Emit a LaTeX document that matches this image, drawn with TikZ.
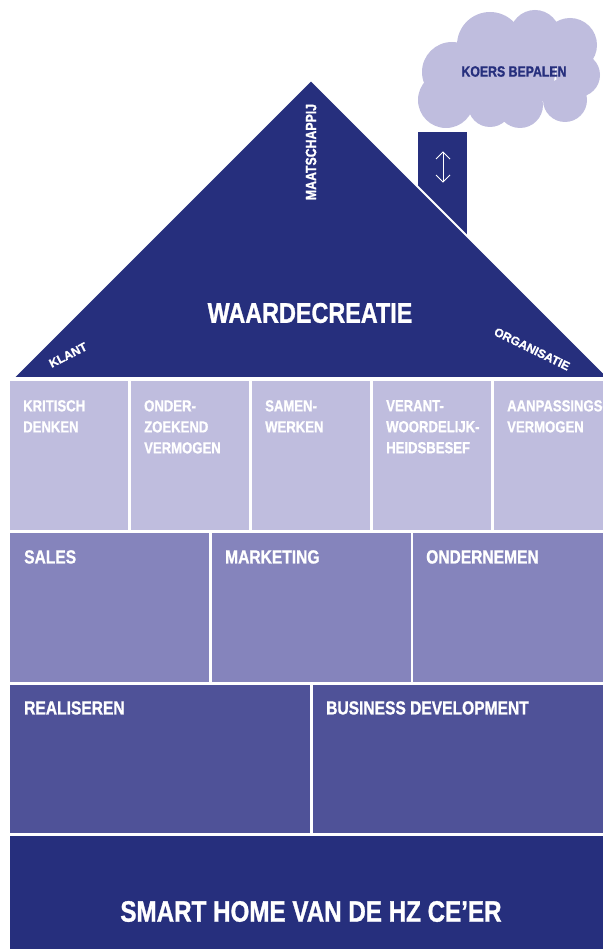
\documentclass[tikz,border=0pt]{standalone}
\usepackage{fontspec}
\usepackage{tikz}
\usepackage{xcolor}
\usetikzlibrary{positioning}
\newfontfamily\housefont{Liberation Sans Bold}[FakeStretch=0.82, FakeBold=1]
\newfontfamily\slopefont{Liberation Sans Bold}[FakeBold=1]
\definecolor{navy}{RGB}{38,47,125}
\definecolor{lila}{RGB}{191,189,222}
\definecolor{paars}{RGB}{133,132,188}
\definecolor{indigo}{RGB}{79,82,152}

\begin{document}
\begin{tikzpicture}[x=1pt,y=-1pt]
\tikzstyle{every node}+=[inner sep=0pt]
\tikzstyle{cell}=[anchor=north west, minimum height=149pt]
\tikzstyle{deugd}=[cell, fill=lila, minimum width=118pt]
\tikzstyle{vak}=[cell, fill=paars, minimum width=199pt]
\tikzstyle{rol}=[cell, fill=indigo, minimum width=300pt, minimum height=148pt]
\tikzstyle{klein}=[anchor=north west, text=white, align=left, font=\housefont\fontsize{16}{21}\selectfont]
\tikzstyle{groot}=[anchor=north west, text=white, font=\housefont\fontsize{19}{23}\selectfont]
\tikzstyle{schuin}=[text=white, font=\slopefont\fontsize{12}{14}\selectfont]
\useasboundingbox (0,0) rectangle (602,949);
\fill [lila] (446,100) circle (28) (452,72) circle (30) (490,45) circle (33)
  (535,35) circle (25) (570,45) circle (27) (578,75) circle (22)
  (565,100) circle (22) (520,105) circle (23) (490,105) circle (22)
  (515,72) circle (40);
\node [text=navy, font=\housefont\fontsize{15}{18}\selectfont] (koers) at (514,71.5) {KOERS BEPALEN};
\fill [navy] (418,132) rectangle (467,240);
\draw [white, line width=2pt, fill=navy] (311,80) -- (13,378) -- (609,378) -- cycle;
\coordinate (up) at (443,152);
\coordinate (dn) at (443,182);
\draw [white, line width=0.8pt] (up) -- (dn);
\draw [white, line width=0.8pt] (up) ++(-7,7) -- (up) -- ++(7,7);
\draw [white, line width=0.8pt] (dn) ++(-7,-7) -- (dn) -- ++(7,-7);
\node [text=white, rotate=90, font=\housefont\fontsize{15}{18}\selectfont] (maat) at (311,152) {MAATSCHAPPIJ};
\node [text=white, font=\housefont\fontsize{28.5}{32}\selectfont] (waarde) at (310,313) {WAARDECREATIE};
\node [schuin, rotate=27] (klant) at (68,355) {KLANT};
\node [schuin, rotate=-26] (org) at (532,349) {ORGANISATIE};
\node [deugd] (d1) at (10,381) {};
\node [deugd] (d2) at (131,381) {};
\node [deugd] (d3) at (252,381) {};
\node [deugd] (d4) at (373,381) {};
\node [deugd] (d5) at (494,381) {};
\node [klein, below right=19pt and 13pt of d1.north west] (t1) {KRITISCH\\DENKEN};
\node [klein, below right=19pt and 13pt of d2.north west] (t2) {ONDER-\\ZOEKEND\\VERMOGEN};
\node [klein, below right=19pt and 13pt of d3.north west] (t3) {SAMEN-\\WERKEN};
\node [klein, below right=19pt and 13pt of d4.north west] (t4) {VERANT-\\WOORDELIJK-\\HEIDSBESEF};
\node [klein, below right=19pt and 13pt of d5.north west] (t5) {AANPASSINGS-\\VERMOGEN};
\node [vak] (v1) at (10,533) {};
\node [vak] (v2) at (212,533) {};
\node [vak] (v3) at (413,533) {};
\node [groot, below right=17pt and 14pt of v1.north west] (sales) {SALES};
\node [groot, below right=17pt and 13pt of v2.north west] (mark) {MARKETING};
\node [groot, below right=17pt and 13pt of v3.north west] (onder) {ONDERNEMEN};
\node [rol] (r1) at (10,685) {};
\node [rol] (r2) at (313,685) {};
\node [groot, below right=16pt and 14pt of r1.north west] (real) {REALISEREN};
\node [groot, below right=16pt and 13pt of r2.north west] (busi) {BUSINESS DEVELOPMENT};
\node [cell, fill=navy, minimum width=600pt, minimum height=120pt] (basis) at (10,836) {};
\node [text=white, font=\housefont\fontsize{29.5}{33}\selectfont] (smart) at (311,911.5) {SMART HOME VAN DE HZ CE’ER};
\end{tikzpicture}
\end{document}
